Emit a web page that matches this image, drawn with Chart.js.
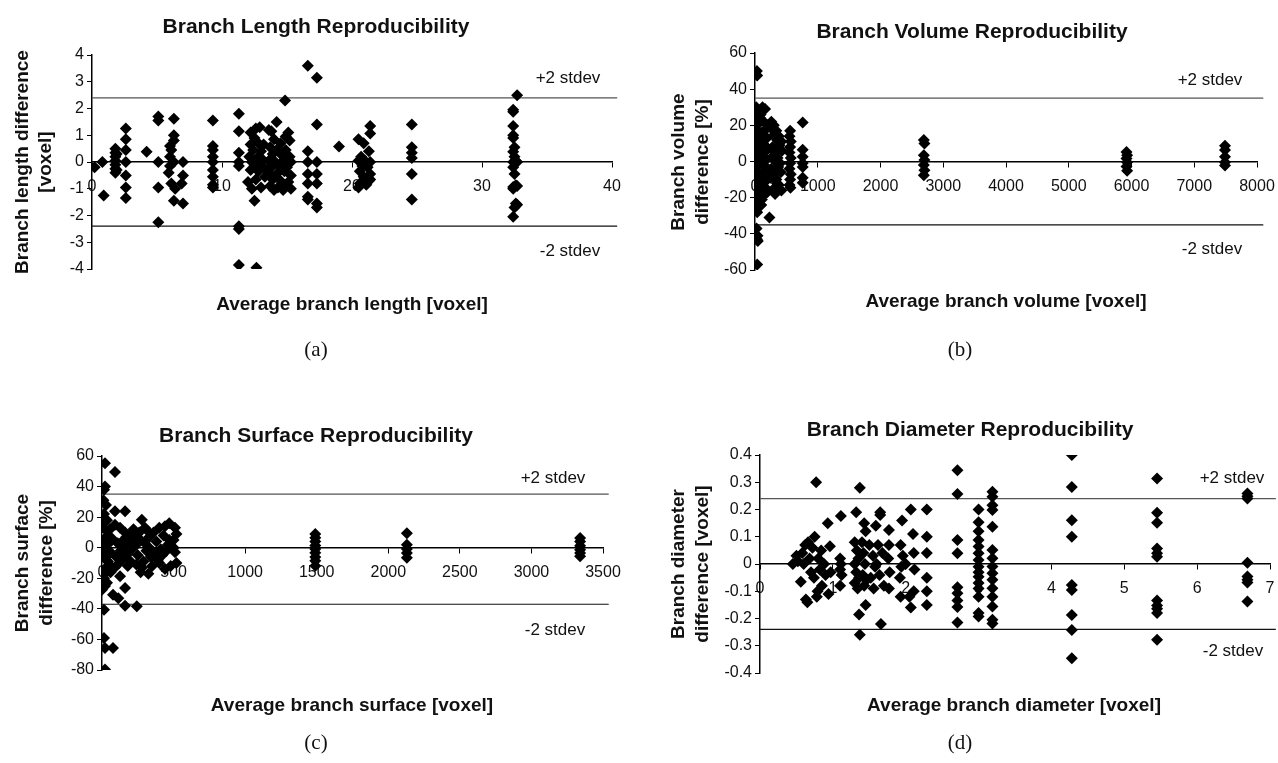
<!DOCTYPE html>
<html><head><meta charset="utf-8">
<script src="https://cdn.jsdelivr.net/npm/chart.js@4.4.1/dist/chart.umd.min.js"></script>
<style>
html,body{margin:0;padding:0;background:#fff;}
body{width:1278px;height:763px;position:relative;overflow:hidden;font-family:"Liberation Sans",Arial,sans-serif;color:#111;}
canvas{position:absolute;}
.t{position:absolute;transform:translate(-50%,-50%);white-space:nowrap;line-height:1;}
.title{font-weight:bold;font-size:21px;}
.xt{font-weight:bold;font-size:19px;}
.yt{font-weight:bold;font-size:19px;transform:translate(-50%,-50%) rotate(-90deg);}
.sd{font-size:17px;}
.cap{font-family:"Liberation Serif","DejaVu Serif",serif;font-size:21px;}
</style></head><body>
<canvas id="cA" width="640" height="380" style="left:0;top:0"></canvas>
<canvas id="cB" width="638" height="380" style="left:640px;top:0"></canvas>
<canvas id="cC" width="640" height="373" style="left:0;top:390px"></canvas>
<canvas id="cD" width="638" height="373" style="left:640px;top:390px"></canvas>

<div class="t title" style="left:316px;top:25px">Branch Length Reproducibility</div>
<div class="t yt" style="left:21px;top:162px">Branch length difference</div>
<div class="t yt" style="left:44px;top:162px">[voxel]</div>
<div class="t xt" style="left:352px;top:303px">Average branch length [voxel]</div>
<div class="t sd" style="left:568px;top:77px">+2 stdev</div>
<div class="t sd" style="left:570px;top:250px">-2 stdev</div>
<div class="t cap" style="left:316px;top:349px">(a)</div>

<div class="t title" style="left:972px;top:30px">Branch Volume Reproducibility</div>
<div class="t yt" style="left:677px;top:162px">Branch volume</div>
<div class="t yt" style="left:701px;top:162px">difference [%]</div>
<div class="t xt" style="left:1006px;top:300px">Average branch volume [voxel]</div>
<div class="t sd" style="left:1210px;top:79px">+2 stdev</div>
<div class="t sd" style="left:1212px;top:248px">-2 stdev</div>
<div class="t cap" style="left:960px;top:349px">(b)</div>

<div class="t title" style="left:316px;top:434px">Branch Surface Reproducibility</div>
<div class="t yt" style="left:21px;top:563px">Branch surface</div>
<div class="t yt" style="left:45px;top:563px">difference [%]</div>
<div class="t xt" style="left:352px;top:704px">Average branch surface [voxel]</div>
<div class="t sd" style="left:553px;top:477px">+2 stdev</div>
<div class="t sd" style="left:555px;top:629px">-2 stdev</div>
<div class="t cap" style="left:316px;top:742px">(c)</div>

<div class="t title" style="left:970px;top:428px">Branch Diameter Reproducibility</div>
<div class="t yt" style="left:677px;top:564px">Branch diameter</div>
<div class="t yt" style="left:701px;top:564px">difference [voxel]</div>
<div class="t xt" style="left:1014px;top:704px">Average branch diameter [voxel]</div>
<div class="t sd" style="left:1232px;top:477px">+2 stdev</div>
<div class="t sd" style="left:1233px;top:650px">-2 stdev</div>
<div class="t cap" style="left:960px;top:742px">(d)</div>

<script>
// ---------- (a) Branch length ----------
const lengthAvg = [
  0.2, 0.8, 0.9,
  1.8, 1.8, 1.8, 1.8, 1.8, 1.8, 1.8, 1.9, 1.9,
  2.6, 2.6, 2.6, 2.6, 2.6, 2.6, 2.6,
  4.2,
  5.1, 5.1, 5.1, 5.1, 5.1,
  6.3, 6.3, 6.3, 6.0, 6.1, 6.0, 6.3, 6.0, 5.9, 6.1, 6.4, 6.3,
  7.0, 7.0, 6.9, 7.0,
  9.3, 9.3, 9.3, 9.3, 9.3, 9.3, 9.3, 9.3, 9.3,
  11.3, 11.3, 11.3, 11.3, 11.3, 11.3, 11.3, 11.3,
  12.2, 12.6, 12.9, 12.5, 12.2, 12.8, 13.2, 12.4, 13.0, 12.1, 12.7, 13.1, 12.3, 12.9, 12.5, 13.2, 12.2, 12.8, 13.3, 12.6, 12.0, 12.3, 13.0, 12.5, 12.65,
  13.6, 14.2, 14.85, 15.1, 14.9, 13.8, 14.0, 14.5, 15.2, 13.7, 14.3, 14.9, 13.9, 14.6, 15.2, 13.6, 14.1, 14.7, 15.3, 13.8, 14.4, 15.0, 13.6, 14.2, 14.8, 15.3, 13.9, 14.5, 15.1, 13.7, 14.3, 14.9, 15.3, 14.0, 14.7,
  16.6, 16.6, 16.6, 16.6, 16.6, 16.6, 16.6,
  17.3, 17.3, 17.3, 17.3, 17.3, 17.3, 17.3,
  19.0,
  20.5, 20.9, 21.4, 21.4, 21.3, 20.7, 21.0, 20.5, 21.4, 20.8, 21.2, 20.6, 21.4, 20.9, 21.3, 20.6, 21.1, 20.5, 21.4,
  24.6, 24.6, 24.6, 24.6, 24.6, 24.6,
  32.7, 32.4, 32.4, 32.4, 32.4, 32.4, 32.5, 32.4, 32.5, 32.6, 32.4, 32.7, 32.4, 32.5, 32.6, 32.7, 32.4, 32.4, 32.6, 32.7, 32.5, 32.4
];
const lengthDiff = [
  -0.2, 0.0, -1.25,
  0.5, 0.35, 0.2, 0.05, -0.1, -0.25, -0.4, 0.3, -0.3,
  1.25, 0.85, 0.45, 0.0, -0.5, -0.95, -1.35,
  0.38,
  1.7, 1.55, 0.0, -0.95, -2.25,
  1.62, 1.0, 0.8, 0.6, 0.45, 0.2, 0.0, -0.15, -0.4, -0.8, -1.0, -1.45,
  0.0, -0.5, -0.8, -1.55,
  1.55, 0.6, 0.45, 0.2, 0.0, -0.3, -0.55, -0.85, -0.95,
  1.8, 1.15, 0.35, 0.0, -0.15, -2.4, -2.5, -3.85,
  1.1, 1.25, 1.3, 0.9, 0.65, 0.7, 0.65, 0.45, 0.4, 0.2, 0.15, 0.1, 0.0, -0.05, -0.15, -0.2, -0.3, -0.35, -0.55, -0.65, -0.75, -1.0, -0.95, -1.45, -3.95,
  1.2, 1.5, 2.3, 1.1, 0.95, 1.15, 0.85, 0.7, 0.8, 0.55, 0.5, 0.45, 0.3, 0.25, 0.2, 0.05, 0.0, 0.05, 0.0, -0.2, -0.15, -0.2, -0.4, -0.45, -0.35, -0.5, -0.65, -0.7, -0.75, -0.9, -0.95, -0.9, -1.0, -1.05, -1.05,
  3.6, 0.4, 0.0, -0.45, -0.8, -1.3, -1.4,
  3.15, 1.4, 0.0, -0.45, -0.8, -1.55, -1.7,
  0.58,
  0.85, 0.7, 1.35, 1.07, 0.4, 0.2, 0.05, 0.05, 0.0, -0.15, -0.2, -0.35, -0.45, -0.55, -0.7, -0.8, -0.85, -0.95, -0.65,
  1.4, 0.55, 0.35, 0.15, -0.45, -1.4,
  2.5, 1.95, 1.88, 1.35, 1.0, 0.9, 0.55, 0.38, 0.2, 0.05, 0.0, 0.0, -0.2, -0.45, -0.87, -0.9, -0.93, -1.0, -1.55, -1.6, -1.7, -2.05
];
const lengthLimits = [2.4, -2.4];

// ---------- (b) Branch volume ----------
const volumeAvg = [
  30, 35, 20, 40, 25, 50, 30, 45, 20, 35, 55, 25, 40, 30, 50, 20, 45, 35, 25, 40, 30, 55, 20, 35, 25, 40, 30, 45, 35,
  160, 120, 90, 140, 180, 100, 150, 110, 170, 130, 90, 160, 120, 140, 100, 180, 150, 110, 230, 100,
  80, 200, 110, 190, 130, 210, 95, 175, 145, 205, 85, 165, 125, 195,
  260, 300, 340, 380, 420, 280, 320, 360, 400, 260, 300, 340, 380, 420, 320,
  270, 310, 350, 390, 430, 290, 330, 370, 410, 250, 350, 300,
  560, 550, 570, 560, 550, 570, 560, 550, 570, 560, 550, 565,
  760, 760, 760, 760, 760, 760, 760,
  2690, 2700, 2690, 2700, 2690, 2700, 2690,
  5920, 5930, 5920, 5930, 5920, 5930,
  7490, 7490, 7490, 7490, 7490
];
const volumeDiff = [
  50, 47.5, 30, 27, 25, 22, 20, 17, 14, 11, 8, 5, 2, 0, -2, -5, -8, -11, -14, -17, -20, -23, -26, -28, -37, -41, -43, -44, -57,
  29, 30, 26, 22, 18, 15, 12, 9, 6, 3, 0, -3, -6, -9, -12, -15, -18, -21, -31, -24,
  24, 20, 16, 13, 10, 7, 4, 1, -2, -5, -8, -11, -14, -17,
  22, 20, 17, 14, 11, 8, 5, 2, -1, -4, -7, -10, -13, -16, -18,
  18, 15, 12, 9, 6, 3, 0, -3, -6, -9, -12, -15,
  17, 14, 11, 8, 5, 2, -1, -4, -7, -10, -13, -14.5,
  21.5, 6.5, 2.6, -1, -3, -9, -11.7,
  11.9, 10, 3.5, 0.8, -2, -4.8, -7.6,
  5.3, 3.5, 1.7, -0.4, -2.7, -5.1,
  8.7, 6.3, 2.6, -0.4, -2.2
];
const volumeLimits = [35, -35];

// ---------- (c) Branch surface ----------
const surfaceAvg = [
  21, 91, 21, 14, 10, 28, 14, 35, 7, 21, 14, 35, 7, 28, 14, 42, 21, 7, 14, 35, 0, 21, 77, 114, 161, 161, 243, 14, 14, 21, 77, 21,
  91, 161, 91, 126, 56, 161, 200, 278, 300, 330, 360, 400, 440, 470, 510, 520, 500, 480, 450, 420, 390, 360, 330, 300, 270, 240, 210, 180, 150, 120, 90, 60, 126, 324,
  280, 240, 200, 230, 190, 150, 110, 70, 60, 100, 140, 170, 250, 290, 350, 400, 440, 480, 520, 510, 500, 470, 430, 380, 340, 310, 260, 220, 40, 30, 50, 270,
  60, 130, 210, 320, 410, 460, 180, 380,
  1490, 1490, 1490, 1490, 1490, 1490, 1490, 1490, 1490,
  2130, 2130, 2130, 2130, 2130,
  3340, 3340, 3340, 3340, 3340, 3340
];
const surfaceDiff = [
  55.3, 49.5, 40, 38, 31, 28, 22, 18, 16, 12, 5, 2, 0, -2, -6, -9, -14, -18, -20, -23, -27.5, -25, -30.7, -33, -26.4, -37.9, -38.3, -40.6, -59, -65.6, -65.6, -79.7,
  23.8, 23.8, 15, 13, 12, 10, 8, 18.3, 13, 7, 10, 13, 14, 16, 13, 9, 5, 1, -2, -5, -8, -3, 0, 3, 5, 2, -1, -4, -7, -10, -13, -16, -18.7, -17,
  -13, -11, -9, 6, 3, 0, 3, 6, -3, -6, 4, 7, -5, -9, -12, -10, -14, -12, -10, -3, 0, 5, 8, 4, -6, -2, 10, 12, 8, -8, -11, -16,
  4, -2, 1, 11, -1, 2, -12, -6,
  8.9, 6.5, 4, 1.5, -0.8, -3.3, -6, -8.5, -11.8,
  9.5, 2, -0.8, -3.5, -6.5,
  6.3, 4.1, 1.3, -1.3, -3.5, -5.6
];
const surfaceLimits = [35, -37];

// ---------- (d) Branch diameter ----------
const diameterAvg = [
  0.45, 0.5, 0.52, 0.56, 0.58, 0.6, 0.62, 0.63, 0.65, 0.66, 0.68, 0.7, 0.72, 0.74, 0.75, 0.77, 0.78, 0.79, 0.8, 0.82, 0.84, 0.85, 0.88, 0.9, 0.93, 0.94, 0.96, 0.97,
  1.11, 1.1, 1.11, 1.1, 1.12, 1.1,
  1.32, 1.37, 1.3, 1.33, 1.35, 1.3, 1.32, 1.36, 1.3, 1.34, 1.37, 1.36, 1.45, 1.43, 1.45, 1.4, 1.42, 1.44, 1.41, 1.43, 1.46,
  1.59, 1.65, 1.65, 1.66, 1.5, 1.55, 1.58, 1.52, 1.56, 1.62, 1.68, 1.6, 1.64, 1.7, 1.77, 1.77, 1.76, 1.78, 1.77,
  1.95, 2.07, 2.1, 2.11, 1.93, 1.96, 1.94, 1.92, 1.93, 2.07, 2.11, 2.05, 2.0, 2.12, 2.29, 2.29, 2.29, 2.29, 2.29, 2.29,
  2.71, 2.71, 2.71, 2.71, 2.71, 2.71, 2.71, 2.71, 2.71,
  3.0, 3.0, 3.0, 3.0, 3.0, 3.0, 3.0, 3.0, 3.0, 3.0, 3.0, 3.0, 3.0, 3.0, 3.0,
  3.19, 3.19, 3.19, 3.19, 3.19, 3.19, 3.19, 3.19, 3.19, 3.19, 3.19, 3.19, 3.19, 3.19, 3.19,
  4.28, 4.28, 4.28, 4.28, 4.28, 4.28, 4.28, 4.28, 4.28,
  5.45, 5.45, 5.45, 5.45, 5.45, 5.45, 5.45, 5.45, 5.45, 5.45, 5.45,
  6.69, 6.69, 6.69, 6.69, 6.69, 6.69, 6.69, 6.69
];
const diameterDiff = [
  0.0, 0.03, 0.01, -0.065, 0.04, 0.0, 0.07, -0.13, -0.14, 0.08, 0.02, -0.03, 0.06, -0.05, 0.1, 0.3, -0.12, -0.1, 0.02, -0.02, 0.05, -0.08, 0.0, -0.04, 0.15, -0.11, 0.065, -0.03,
  0.176, 0.02, 0.0, -0.02, -0.04, -0.08,
  0.19, 0.28, 0.08, 0.05, 0.02, 0.0, -0.03, -0.05, -0.07, -0.09, -0.26, -0.185, -0.15, 0.15, 0.12, 0.08, 0.04, 0.0, -0.04, -0.08, -0.06,
  0.14, 0.19, 0.18, -0.22, 0.07, 0.03, -0.01, -0.05, -0.09, 0.07, 0.04, 0.0, -0.04, -0.08, 0.125, 0.07, 0.02, -0.03, -0.09,
  0.16, 0.2, 0.11, 0.04, 0.07, 0.03, -0.01, -0.05, -0.12, -0.16, -0.1, -0.12, 0.0, -0.02, 0.2, 0.1, 0.04, -0.05, -0.1, -0.15,
  0.344, 0.257, 0.088, 0.039, -0.085, -0.107, -0.134, -0.158, -0.215,
  0.2, 0.153, 0.12, 0.088, 0.064, 0.039, 0.015, -0.01, -0.03, -0.047, -0.07, -0.09, -0.12, -0.18, -0.193,
  0.265, 0.247, 0.216, 0.198, 0.137, 0.051, 0.021, -0.009, -0.034, -0.058, -0.089, -0.12, -0.156, -0.205, -0.218,
  0.4, 0.283, 0.161, 0.1, -0.077, -0.095, -0.187, -0.242, -0.346,
  0.314, 0.188, 0.151, 0.057, 0.039, 0.027, -0.134, -0.152, -0.164, -0.18, -0.278,
  0.259, 0.249, 0.24, 0.005, -0.046, -0.058, -0.068, -0.138
];
const diameterLimits = [0.24, -0.24];

// ---------- axis tick ranges ----------
const lengthXTicks = [0, 40, 10];   const lengthYTicks = [-4, 4, 1];
const volumeXTicks = [0, 8000, 1000]; const volumeYTicks = [-60, 60, 20];
const surfaceXTicks = [0, 3500, 500]; const surfaceYTicks = [-80, 60, 20];
const diameterXTicks = [0, 7, 1];   const diameterYTicks = [-0.4, 0.4, 0.1];

function pts(xs, ys) { return xs.map((x, i) => ({ x: x, y: ys[i] })); }
const tickFont = { family: '"Liberation Sans", Arial, sans-serif', size: 16 };
const fmt = v => String(Math.round(v * 1000) / 1000);

function makePanel(id, xs, ys, limits, xt, yt, lineEnd, yAxisW, pad) {
  const lineDs = (y, col) => ({
    type: 'line', data: [{ x: xt[0], y: y }, { x: lineEnd, y: y }],
    borderColor: col, borderWidth: 1.2, pointRadius: 0, clip: false, order: 2
  });
  new Chart(document.getElementById(id), {
    type: 'scatter',
    data: {
      datasets: [
        lineDs(limits[0], '#555'),
        lineDs(limits[1], '#111'),
        { data: pts(xs, ys), pointStyle: 'rectRot', pointRadius: 6, pointHoverRadius: 6,
          backgroundColor: '#000', borderColor: '#000', borderWidth: 0, order: 1 }
      ]
    },
    options: {
      responsive: false, animation: false, events: [],
      layout: { padding: pad },
      plugins: { legend: { display: false }, tooltip: { enabled: false } },
      scales: {
        x: {
          type: 'linear', position: { y: 0 }, min: xt[0], max: xt[1],
          afterFit: s => { s.paddingLeft = 0; s.paddingRight = 0; },
          ticks: { stepSize: xt[2], callback: fmt, font: tickFont, color: '#111', padding: 10, maxRotation: 0, autoSkip: false },
          grid: { drawOnChartArea: false, drawTicks: true, tickLength: 5, color: '#000', lineWidth: 1 },
          border: { display: true, color: '#000', width: 1.5 }
        },
        y: {
          type: 'linear', position: 'left', min: yt[0], max: yt[1],
          afterFit: s => { s.width = yAxisW; s.paddingTop = 0; s.paddingBottom = 0; },
          ticks: { stepSize: yt[2], callback: fmt, font: tickFont, color: '#111', padding: 3, autoSkip: false },
          grid: { drawOnChartArea: false, drawTicks: true, tickLength: 5, color: '#000', lineWidth: 1 },
          border: { display: true, color: '#000', width: 1.5 }
        }
      }
    }
  });
}

makePanel('cA', lengthAvg, lengthDiff, lengthLimits, lengthXTicks, lengthYTicks, 40.4, 92, { left: 0, top: 55, right: 28, bottom: 111 });
makePanel('cB', volumeAvg, volumeDiff, volumeLimits, volumeXTicks, volumeYTicks, 8100, 115, { left: 0, top: 53, right: 21, bottom: 110 });
makePanel('cC', surfaceAvg, surfaceDiff, surfaceLimits, surfaceXTicks, surfaceYTicks, 3540, 102, { left: 0, top: 66, right: 37, bottom: 93 });
makePanel('cD', diameterAvg, diameterDiff, diameterLimits, diameterXTicks, diameterYTicks, 7.08, 120, { left: 0, top: 65, right: 8, bottom: 90 });
</script>
</body></html>
